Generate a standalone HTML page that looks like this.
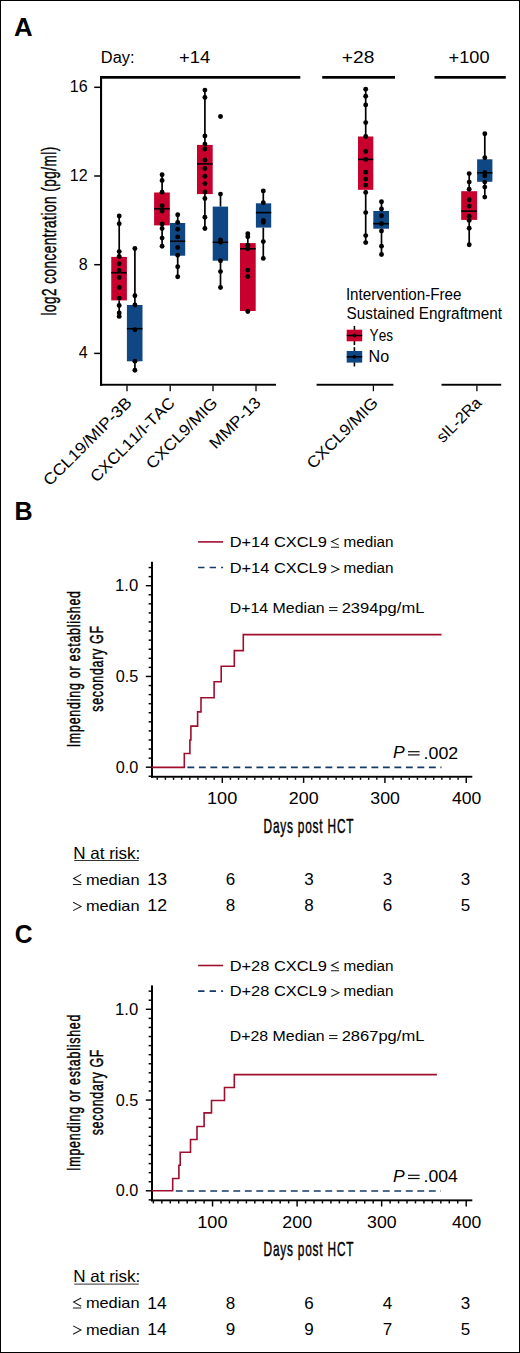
<!DOCTYPE html>
<html><head><meta charset="utf-8"><style>
html,body{margin:0;padding:0;background:#fff;}
svg{display:block;}
text{font-family:"Liberation Sans",sans-serif;fill:#000;font-kerning:none;font-variant-ligatures:none;}
</style></head><body>
<svg width="520" height="1353" viewBox="0 0 520 1353">
<rect x="0" y="0" width="520" height="1353" fill="#fff"/>
<text x="13.93" y="35.50" font-size="25" textLength="18.65" lengthAdjust="spacingAndGlyphs" font-weight="bold" >A</text>
<text x="100.86" y="62.70" font-size="16" textLength="33.65" lengthAdjust="spacingAndGlyphs" >Day:</text>
<text x="178.92" y="62.70" font-size="16.5" textLength="31.24" lengthAdjust="spacingAndGlyphs" >+14</text>
<text x="341.78" y="62.70" font-size="16.5" textLength="32.57" lengthAdjust="spacingAndGlyphs" >+28</text>
<text x="448.63" y="62.70" font-size="16.5" textLength="40.87" lengthAdjust="spacingAndGlyphs" >+100</text>
<rect x="100.00" y="76.00" width="200.30" height="2.70" fill="#000"/>
<rect x="322.20" y="76.00" width="72.80" height="2.70" fill="#000"/>
<rect x="434.50" y="76.00" width="71.30" height="2.70" fill="#000"/>
<rect x="100.00" y="76.00" width="2.10" height="309.70" fill="#000"/>
<rect x="100.00" y="383.80" width="176.00" height="1.90" fill="#000"/>
<rect x="316.60" y="383.80" width="76.80" height="1.90" fill="#000"/>
<rect x="441.50" y="383.80" width="59.70" height="1.90" fill="#000"/>
<line x1="94.20" y1="87.30" x2="100.00" y2="87.30" stroke="#000" stroke-width="1.5" />
<text x="87.6" y="92.19999999999999" font-size="16" text-anchor="end" >16</text>
<line x1="94.20" y1="176.00" x2="100.00" y2="176.00" stroke="#000" stroke-width="1.5" />
<text x="87.6" y="180.9" font-size="16" text-anchor="end" >12</text>
<line x1="94.20" y1="264.70" x2="100.00" y2="264.70" stroke="#000" stroke-width="1.5" />
<text x="87.6" y="269.6" font-size="16" text-anchor="end" >8</text>
<line x1="94.20" y1="353.40" x2="100.00" y2="353.40" stroke="#000" stroke-width="1.5" />
<text x="87.6" y="358.3" font-size="16" text-anchor="end" >4</text>
<text x="-1.31" y="0.00" font-size="19.3" letter-spacing="0.725" transform="translate(55.80,314.60) rotate(-90) scale(0.7,1)" stroke="#000" stroke-width="0.45">log2 concentration (pg/ml)</text>
<line x1="127.00" y1="385.60" x2="127.00" y2="391.20" stroke="#000" stroke-width="1.3" />
<line x1="170.20" y1="385.60" x2="170.20" y2="391.20" stroke="#000" stroke-width="1.3" />
<line x1="213.00" y1="385.60" x2="213.00" y2="391.20" stroke="#000" stroke-width="1.3" />
<line x1="256.00" y1="385.60" x2="256.00" y2="391.20" stroke="#000" stroke-width="1.3" />
<line x1="373.40" y1="385.60" x2="373.40" y2="391.20" stroke="#000" stroke-width="1.3" />
<line x1="476.90" y1="385.60" x2="476.90" y2="391.20" stroke="#000" stroke-width="1.3" />
<text transform="translate(132.65,403.85) rotate(-45) scale(1.09,1)" font-size="16" text-anchor="end">CCL19/MIP-3B</text>
<text transform="translate(175.85,403.85) rotate(-45) scale(1.05,1)" font-size="16" text-anchor="end">CXCL11/I-TAC</text>
<text transform="translate(218.65,403.85) rotate(-45) scale(1.084,1)" font-size="16" text-anchor="end">CXCL9/MIG</text>
<text transform="translate(261.65,403.85) rotate(-45) scale(1.073,1)" font-size="16" text-anchor="end">MMP-13</text>
<text transform="translate(379.05,403.85) rotate(-45) scale(1.08,1)" font-size="16" text-anchor="end">CXCL9/MIG</text>
<text transform="translate(482.55,403.85) rotate(-45) scale(1.0,1)" font-size="16" text-anchor="end">sIL-2Ra</text>
<line x1="119.20" y1="216.00" x2="119.20" y2="256.90" stroke="#000" stroke-width="1.7" />
<line x1="119.20" y1="300.40" x2="119.20" y2="316.40" stroke="#000" stroke-width="1.7" />
<rect x="111.25" y="256.90" width="15.65" height="43.50" fill="#c8002d"/>
<line x1="111.25" y1="272.70" x2="126.90" y2="272.70" stroke="#000" stroke-width="1.6" />
<circle cx="119.20" cy="216.00" r="2.45" fill="#000"/>
<circle cx="119.20" cy="223.70" r="2.45" fill="#000"/>
<circle cx="119.20" cy="251.60" r="2.45" fill="#000"/>
<circle cx="119.20" cy="256.50" r="2.45" fill="#000"/>
<circle cx="119.20" cy="263.80" r="2.45" fill="#000"/>
<circle cx="119.20" cy="270.50" r="2.45" fill="#000"/>
<circle cx="119.20" cy="277.50" r="2.45" fill="#000"/>
<circle cx="119.20" cy="287.50" r="2.45" fill="#000"/>
<circle cx="119.20" cy="298.10" r="2.45" fill="#000"/>
<circle cx="119.20" cy="305.50" r="2.45" fill="#000"/>
<circle cx="119.20" cy="313.00" r="2.45" fill="#000"/>
<circle cx="119.20" cy="316.40" r="2.45" fill="#000"/>
<line x1="134.90" y1="248.50" x2="134.90" y2="305.00" stroke="#000" stroke-width="1.7" />
<line x1="134.90" y1="361.30" x2="134.90" y2="370.20" stroke="#000" stroke-width="1.7" />
<rect x="126.90" y="305.00" width="15.60" height="56.30" fill="#0f4785"/>
<line x1="126.90" y1="328.70" x2="142.50" y2="328.70" stroke="#000" stroke-width="1.6" />
<circle cx="134.90" cy="248.50" r="2.45" fill="#000"/>
<circle cx="134.90" cy="295.70" r="2.45" fill="#000"/>
<circle cx="134.90" cy="305.00" r="2.45" fill="#000"/>
<circle cx="134.90" cy="329.70" r="2.45" fill="#000"/>
<circle cx="134.90" cy="361.30" r="2.45" fill="#000"/>
<circle cx="134.90" cy="370.20" r="2.45" fill="#000"/>
<line x1="162.10" y1="174.70" x2="162.10" y2="192.50" stroke="#000" stroke-width="1.7" />
<line x1="162.10" y1="225.40" x2="162.10" y2="246.30" stroke="#000" stroke-width="1.7" />
<rect x="154.10" y="192.50" width="15.70" height="32.90" fill="#c8002d"/>
<line x1="154.10" y1="208.75" x2="169.80" y2="208.75" stroke="#000" stroke-width="1.6" />
<circle cx="162.10" cy="174.70" r="2.45" fill="#000"/>
<circle cx="162.10" cy="180.50" r="2.45" fill="#000"/>
<circle cx="162.10" cy="192.20" r="2.45" fill="#000"/>
<circle cx="162.10" cy="205.70" r="2.45" fill="#000"/>
<circle cx="162.10" cy="211.00" r="2.45" fill="#000"/>
<circle cx="162.10" cy="223.90" r="2.45" fill="#000"/>
<circle cx="162.10" cy="228.50" r="2.45" fill="#000"/>
<circle cx="162.10" cy="238.10" r="2.45" fill="#000"/>
<circle cx="162.10" cy="246.30" r="2.45" fill="#000"/>
<line x1="177.70" y1="214.80" x2="177.70" y2="223.00" stroke="#000" stroke-width="1.7" />
<line x1="177.70" y1="255.70" x2="177.70" y2="276.80" stroke="#000" stroke-width="1.7" />
<rect x="170.00" y="223.00" width="15.20" height="32.70" fill="#0f4785"/>
<line x1="170.00" y1="241.25" x2="185.20" y2="241.25" stroke="#000" stroke-width="1.6" />
<circle cx="177.70" cy="214.80" r="2.45" fill="#000"/>
<circle cx="177.70" cy="222.50" r="2.45" fill="#000"/>
<circle cx="177.70" cy="229.20" r="2.45" fill="#000"/>
<circle cx="177.70" cy="236.90" r="2.45" fill="#000"/>
<circle cx="177.70" cy="247.50" r="2.45" fill="#000"/>
<circle cx="177.70" cy="255.20" r="2.45" fill="#000"/>
<circle cx="177.70" cy="266.70" r="2.45" fill="#000"/>
<circle cx="177.70" cy="276.80" r="2.45" fill="#000"/>
<line x1="204.90" y1="90.10" x2="204.90" y2="144.90" stroke="#000" stroke-width="1.7" />
<line x1="204.90" y1="194.10" x2="204.90" y2="228.50" stroke="#000" stroke-width="1.7" />
<rect x="197.00" y="144.90" width="15.70" height="49.20" fill="#c8002d"/>
<line x1="197.00" y1="163.90" x2="212.70" y2="163.90" stroke="#000" stroke-width="1.6" />
<circle cx="204.90" cy="90.10" r="2.45" fill="#000"/>
<circle cx="204.90" cy="97.40" r="2.45" fill="#000"/>
<circle cx="204.90" cy="136.00" r="2.45" fill="#000"/>
<circle cx="204.90" cy="144.10" r="2.45" fill="#000"/>
<circle cx="204.90" cy="149.00" r="2.45" fill="#000"/>
<circle cx="204.90" cy="160.00" r="2.45" fill="#000"/>
<circle cx="204.90" cy="168.50" r="2.45" fill="#000"/>
<circle cx="204.90" cy="176.30" r="2.45" fill="#000"/>
<circle cx="204.90" cy="183.60" r="2.45" fill="#000"/>
<circle cx="204.90" cy="192.00" r="2.45" fill="#000"/>
<circle cx="204.90" cy="198.50" r="2.45" fill="#000"/>
<circle cx="204.90" cy="217.20" r="2.45" fill="#000"/>
<circle cx="204.90" cy="228.50" r="2.45" fill="#000"/>
<line x1="220.50" y1="194.10" x2="220.50" y2="206.60" stroke="#000" stroke-width="1.7" />
<line x1="220.50" y1="260.70" x2="220.50" y2="287.50" stroke="#000" stroke-width="1.7" />
<rect x="212.70" y="206.60" width="15.40" height="54.10" fill="#0f4785"/>
<line x1="212.70" y1="242.30" x2="228.10" y2="242.30" stroke="#000" stroke-width="1.6" />
<circle cx="220.50" cy="116.50" r="2.45" fill="#000"/>
<circle cx="220.50" cy="194.10" r="2.45" fill="#000"/>
<circle cx="220.50" cy="239.90" r="2.45" fill="#000"/>
<circle cx="220.50" cy="242.30" r="2.45" fill="#000"/>
<circle cx="220.50" cy="260.70" r="2.45" fill="#000"/>
<circle cx="220.50" cy="271.60" r="2.45" fill="#000"/>
<circle cx="220.50" cy="287.50" r="2.45" fill="#000"/>
<line x1="247.80" y1="233.80" x2="247.80" y2="243.10" stroke="#000" stroke-width="1.7" />
<line x1="247.80" y1="311.00" x2="247.80" y2="311.50" stroke="#000" stroke-width="1.7" />
<rect x="240.00" y="243.10" width="15.70" height="67.90" fill="#c8002d"/>
<line x1="240.00" y1="248.80" x2="255.70" y2="248.80" stroke="#000" stroke-width="1.6" />
<circle cx="247.80" cy="233.80" r="2.45" fill="#000"/>
<circle cx="247.80" cy="236.70" r="2.45" fill="#000"/>
<circle cx="247.80" cy="245.20" r="2.45" fill="#000"/>
<circle cx="247.80" cy="248.80" r="2.45" fill="#000"/>
<circle cx="247.80" cy="270.10" r="2.45" fill="#000"/>
<circle cx="247.80" cy="276.50" r="2.45" fill="#000"/>
<circle cx="247.80" cy="311.50" r="2.45" fill="#000"/>
<line x1="263.30" y1="190.90" x2="263.30" y2="203.30" stroke="#000" stroke-width="1.7" />
<line x1="263.30" y1="227.60" x2="263.30" y2="258.40" stroke="#000" stroke-width="1.7" />
<rect x="255.90" y="203.30" width="15.30" height="24.30" fill="#0f4785"/>
<line x1="255.90" y1="212.60" x2="271.20" y2="212.60" stroke="#000" stroke-width="1.6" />
<circle cx="263.30" cy="190.90" r="2.45" fill="#000"/>
<circle cx="263.30" cy="202.80" r="2.45" fill="#000"/>
<circle cx="263.30" cy="220.40" r="2.45" fill="#000"/>
<circle cx="263.30" cy="222.40" r="2.45" fill="#000"/>
<circle cx="263.30" cy="241.60" r="2.45" fill="#000"/>
<circle cx="263.30" cy="258.40" r="2.45" fill="#000"/>
<line x1="365.70" y1="89.30" x2="365.70" y2="136.50" stroke="#000" stroke-width="1.7" />
<line x1="365.70" y1="189.80" x2="365.70" y2="242.60" stroke="#000" stroke-width="1.7" />
<rect x="358.00" y="136.50" width="15.30" height="53.30" fill="#c8002d"/>
<line x1="358.00" y1="159.40" x2="373.30" y2="159.40" stroke="#000" stroke-width="1.6" />
<circle cx="365.70" cy="89.30" r="2.45" fill="#000"/>
<circle cx="365.70" cy="96.20" r="2.45" fill="#000"/>
<circle cx="365.70" cy="104.90" r="2.45" fill="#000"/>
<circle cx="365.70" cy="122.60" r="2.45" fill="#000"/>
<circle cx="365.70" cy="136.50" r="2.45" fill="#000"/>
<circle cx="365.70" cy="151.40" r="2.45" fill="#000"/>
<circle cx="365.70" cy="159.40" r="2.45" fill="#000"/>
<circle cx="365.70" cy="172.20" r="2.45" fill="#000"/>
<circle cx="365.70" cy="179.10" r="2.45" fill="#000"/>
<circle cx="365.70" cy="185.10" r="2.45" fill="#000"/>
<circle cx="365.70" cy="192.40" r="2.45" fill="#000"/>
<circle cx="365.70" cy="212.60" r="2.45" fill="#000"/>
<circle cx="365.70" cy="235.60" r="2.45" fill="#000"/>
<circle cx="365.70" cy="242.60" r="2.45" fill="#000"/>
<line x1="381.50" y1="201.70" x2="381.50" y2="211.00" stroke="#000" stroke-width="1.7" />
<line x1="381.50" y1="228.70" x2="381.50" y2="254.50" stroke="#000" stroke-width="1.7" />
<rect x="373.30" y="211.00" width="15.70" height="17.70" fill="#0f4785"/>
<line x1="373.30" y1="223.70" x2="389.00" y2="223.70" stroke="#000" stroke-width="1.6" />
<circle cx="381.50" cy="201.70" r="2.45" fill="#000"/>
<circle cx="381.50" cy="209.00" r="2.45" fill="#000"/>
<circle cx="381.50" cy="215.70" r="2.45" fill="#000"/>
<circle cx="381.50" cy="223.70" r="2.45" fill="#000"/>
<circle cx="381.50" cy="231.00" r="2.45" fill="#000"/>
<circle cx="381.50" cy="246.30" r="2.45" fill="#000"/>
<circle cx="381.50" cy="254.50" r="2.45" fill="#000"/>
<line x1="469.20" y1="173.60" x2="469.20" y2="191.20" stroke="#000" stroke-width="1.7" />
<line x1="469.20" y1="219.90" x2="469.20" y2="244.70" stroke="#000" stroke-width="1.7" />
<rect x="461.20" y="191.20" width="15.90" height="28.70" fill="#c8002d"/>
<line x1="461.20" y1="211.10" x2="477.10" y2="211.10" stroke="#000" stroke-width="1.6" />
<circle cx="469.20" cy="173.60" r="2.45" fill="#000"/>
<circle cx="469.20" cy="182.10" r="2.45" fill="#000"/>
<circle cx="469.20" cy="189.20" r="2.45" fill="#000"/>
<circle cx="469.20" cy="199.70" r="2.45" fill="#000"/>
<circle cx="469.20" cy="206.10" r="2.45" fill="#000"/>
<circle cx="469.20" cy="216.30" r="2.45" fill="#000"/>
<circle cx="469.20" cy="220.40" r="2.45" fill="#000"/>
<circle cx="469.20" cy="228.20" r="2.45" fill="#000"/>
<circle cx="469.20" cy="244.70" r="2.45" fill="#000"/>
<line x1="484.80" y1="133.80" x2="484.80" y2="159.30" stroke="#000" stroke-width="1.7" />
<line x1="484.80" y1="181.80" x2="484.80" y2="197.10" stroke="#000" stroke-width="1.7" />
<rect x="477.10" y="159.30" width="15.30" height="22.50" fill="#0f4785"/>
<line x1="477.10" y1="172.80" x2="492.40" y2="172.80" stroke="#000" stroke-width="1.6" />
<circle cx="484.80" cy="133.80" r="2.45" fill="#000"/>
<circle cx="484.80" cy="157.80" r="2.45" fill="#000"/>
<circle cx="484.80" cy="172.80" r="2.45" fill="#000"/>
<circle cx="484.80" cy="175.90" r="2.45" fill="#000"/>
<circle cx="484.80" cy="182.10" r="2.45" fill="#000"/>
<circle cx="484.80" cy="187.10" r="2.45" fill="#000"/>
<circle cx="484.80" cy="197.10" r="2.45" fill="#000"/>
<text x="345.90" y="300.30" font-size="16" textLength="115.58" lengthAdjust="spacingAndGlyphs" >Intervention-Free</text>
<text x="346.60" y="319.10" font-size="16" textLength="155.51" lengthAdjust="spacingAndGlyphs" >Sustained Engraftment</text>
<line x1="354.40" y1="325.90" x2="354.40" y2="345.10" stroke="#000" stroke-width="1.6" />
<rect x="346.70" y="329.70" width="15.50" height="11.60" fill="#c8002d"/>
<line x1="346.70" y1="335.50" x2="362.20" y2="335.50" stroke="#000" stroke-width="1.5" />
<circle cx="354.40" cy="335.50" r="1.9" fill="#000"/>
<text x="369.58" y="341.40" font-size="16.3" textLength="23.42" lengthAdjust="spacingAndGlyphs" >Yes</text>
<line x1="354.40" y1="347.20" x2="354.40" y2="366.40" stroke="#000" stroke-width="1.6" />
<rect x="346.70" y="351.00" width="15.50" height="11.60" fill="#0f4785"/>
<line x1="346.70" y1="356.80" x2="362.20" y2="356.80" stroke="#000" stroke-width="1.5" />
<circle cx="354.40" cy="356.80" r="1.9" fill="#000"/>
<text x="368.58" y="362.40" font-size="16.3" textLength="20.60" lengthAdjust="spacingAndGlyphs" >No</text>
<text x="14.54" y="519.60" font-size="25" textLength="18.11" lengthAdjust="spacingAndGlyphs" font-weight="bold" >B</text>
<line x1="198.10" y1="541.90" x2="223.10" y2="541.90" stroke="#a00e2e" stroke-width="1.6" />
<line x1="198.10" y1="567.50" x2="223.10" y2="567.50" stroke="#163a66" stroke-width="1.6" stroke-dasharray="6.4 5.1"/>
<text x="229.65" y="547.30" font-size="15.5" textLength="97.13" lengthAdjust="spacingAndGlyphs" >D+14 CXCL9</text>
<text x="343.59" y="547.30" font-size="15.5" textLength="49.98" lengthAdjust="spacingAndGlyphs" >median</text>
<text x="229.65" y="572.70" font-size="15.5" textLength="97.13" lengthAdjust="spacingAndGlyphs" >D+14 CXCL9</text>
<text x="343.59" y="572.70" font-size="15.5" textLength="49.98" lengthAdjust="spacingAndGlyphs" >median</text>
<path d="M338.7,538.20 L331.6,541.60 L338.7,545.10 M331.0,547.20 H339.1" fill="none" stroke="#1a1a1a" stroke-width="1.05" stroke-linejoin="miter"/>
<path d="M331.2,565.50 L339.0,569.20 L331.2,572.80" fill="none" stroke="#1a1a1a" stroke-width="1.05" stroke-linejoin="miter"/>
<text x="229.80" y="612.80" font-size="15.5" textLength="94.92" lengthAdjust="spacingAndGlyphs" >D+14 Median</text>
<rect x="329.10" y="607.00" width="8.40" height="1.05" fill="#222"/>
<rect x="329.10" y="610.00" width="8.40" height="1.05" fill="#222"/>
<text x="341.67" y="612.80" font-size="15.5" textLength="82.69" lengthAdjust="spacingAndGlyphs" >2394pg/mL</text>
<text x="392.98" y="758.20" font-size="16.0" textLength="11.65" lengthAdjust="spacingAndGlyphs" font-style="italic" >P</text>
<rect x="408.00" y="751.10" width="11.60" height="1.20" fill="#111"/>
<rect x="408.00" y="754.30" width="11.60" height="1.20" fill="#111"/>
<text x="423.56" y="758.50" font-size="17" textLength="34.63" lengthAdjust="spacingAndGlyphs" >.002</text>
<rect x="151.00" y="561.80" width="2.00" height="216.00" fill="#000"/>
<line x1="148.60" y1="776.28" x2="151.00" y2="776.28" stroke="#000" stroke-width="1.45" />
<line x1="145.80" y1="767.20" x2="151.00" y2="767.20" stroke="#000" stroke-width="1.45" />
<line x1="148.60" y1="758.12" x2="151.00" y2="758.12" stroke="#000" stroke-width="1.45" />
<line x1="148.60" y1="749.05" x2="151.00" y2="749.05" stroke="#000" stroke-width="1.45" />
<line x1="148.60" y1="739.98" x2="151.00" y2="739.98" stroke="#000" stroke-width="1.45" />
<line x1="148.60" y1="730.90" x2="151.00" y2="730.90" stroke="#000" stroke-width="1.45" />
<line x1="148.60" y1="721.83" x2="151.00" y2="721.83" stroke="#000" stroke-width="1.45" />
<line x1="148.60" y1="712.75" x2="151.00" y2="712.75" stroke="#000" stroke-width="1.45" />
<line x1="148.60" y1="703.68" x2="151.00" y2="703.68" stroke="#000" stroke-width="1.45" />
<line x1="148.60" y1="694.60" x2="151.00" y2="694.60" stroke="#000" stroke-width="1.45" />
<line x1="148.60" y1="685.53" x2="151.00" y2="685.53" stroke="#000" stroke-width="1.45" />
<line x1="145.80" y1="676.45" x2="151.00" y2="676.45" stroke="#000" stroke-width="1.45" />
<line x1="148.60" y1="667.38" x2="151.00" y2="667.38" stroke="#000" stroke-width="1.45" />
<line x1="148.60" y1="658.30" x2="151.00" y2="658.30" stroke="#000" stroke-width="1.45" />
<line x1="148.60" y1="649.23" x2="151.00" y2="649.23" stroke="#000" stroke-width="1.45" />
<line x1="148.60" y1="640.15" x2="151.00" y2="640.15" stroke="#000" stroke-width="1.45" />
<line x1="148.60" y1="631.08" x2="151.00" y2="631.08" stroke="#000" stroke-width="1.45" />
<line x1="148.60" y1="622.00" x2="151.00" y2="622.00" stroke="#000" stroke-width="1.45" />
<line x1="148.60" y1="612.93" x2="151.00" y2="612.93" stroke="#000" stroke-width="1.45" />
<line x1="148.60" y1="603.85" x2="151.00" y2="603.85" stroke="#000" stroke-width="1.45" />
<line x1="148.60" y1="594.78" x2="151.00" y2="594.78" stroke="#000" stroke-width="1.45" />
<line x1="145.80" y1="585.70" x2="151.00" y2="585.70" stroke="#000" stroke-width="1.45" />
<line x1="148.60" y1="576.62" x2="151.00" y2="576.62" stroke="#000" stroke-width="1.45" />
<line x1="148.60" y1="567.55" x2="151.00" y2="567.55" stroke="#000" stroke-width="1.45" />
<text x="115.03" y="591.30" font-size="16.8" textLength="23.21" lengthAdjust="spacingAndGlyphs" >1.0</text>
<text x="115.65" y="682.05" font-size="16.8" textLength="22.64" lengthAdjust="spacingAndGlyphs" >0.5</text>
<text x="115.65" y="772.80" font-size="16.8" textLength="22.57" lengthAdjust="spacingAndGlyphs" >0.0</text>
<rect x="151.00" y="775.80" width="321.30" height="1.90" fill="#000"/>
<line x1="157.26" y1="777.50" x2="157.26" y2="779.80" stroke="#000" stroke-width="1.45" />
<line x1="165.39" y1="777.50" x2="165.39" y2="779.80" stroke="#000" stroke-width="1.45" />
<line x1="173.52" y1="777.50" x2="173.52" y2="779.80" stroke="#000" stroke-width="1.45" />
<line x1="181.66" y1="777.50" x2="181.66" y2="779.80" stroke="#000" stroke-width="1.45" />
<line x1="189.79" y1="777.50" x2="189.79" y2="779.80" stroke="#000" stroke-width="1.45" />
<line x1="197.92" y1="777.50" x2="197.92" y2="779.80" stroke="#000" stroke-width="1.45" />
<line x1="206.05" y1="777.50" x2="206.05" y2="779.80" stroke="#000" stroke-width="1.45" />
<line x1="214.18" y1="777.50" x2="214.18" y2="779.80" stroke="#000" stroke-width="1.45" />
<line x1="222.31" y1="777.50" x2="222.31" y2="782.90" stroke="#000" stroke-width="1.45" />
<text x="207.03" y="804.20" font-size="16.8" textLength="30.28" lengthAdjust="spacingAndGlyphs" >100</text>
<line x1="230.44" y1="777.50" x2="230.44" y2="779.80" stroke="#000" stroke-width="1.45" />
<line x1="238.57" y1="777.50" x2="238.57" y2="779.80" stroke="#000" stroke-width="1.45" />
<line x1="246.70" y1="777.50" x2="246.70" y2="779.80" stroke="#000" stroke-width="1.45" />
<line x1="254.83" y1="777.50" x2="254.83" y2="779.80" stroke="#000" stroke-width="1.45" />
<line x1="262.97" y1="777.50" x2="262.97" y2="779.80" stroke="#000" stroke-width="1.45" />
<line x1="271.10" y1="777.50" x2="271.10" y2="779.80" stroke="#000" stroke-width="1.45" />
<line x1="279.23" y1="777.50" x2="279.23" y2="779.80" stroke="#000" stroke-width="1.45" />
<line x1="287.36" y1="777.50" x2="287.36" y2="779.80" stroke="#000" stroke-width="1.45" />
<line x1="295.49" y1="777.50" x2="295.49" y2="779.80" stroke="#000" stroke-width="1.45" />
<line x1="303.62" y1="777.50" x2="303.62" y2="782.90" stroke="#000" stroke-width="1.45" />
<text x="288.83" y="804.20" font-size="16.8" textLength="29.78" lengthAdjust="spacingAndGlyphs" >200</text>
<line x1="311.75" y1="777.50" x2="311.75" y2="779.80" stroke="#000" stroke-width="1.45" />
<line x1="319.88" y1="777.50" x2="319.88" y2="779.80" stroke="#000" stroke-width="1.45" />
<line x1="328.01" y1="777.50" x2="328.01" y2="779.80" stroke="#000" stroke-width="1.45" />
<line x1="336.14" y1="777.50" x2="336.14" y2="779.80" stroke="#000" stroke-width="1.45" />
<line x1="344.27" y1="777.50" x2="344.27" y2="779.80" stroke="#000" stroke-width="1.45" />
<line x1="352.41" y1="777.50" x2="352.41" y2="779.80" stroke="#000" stroke-width="1.45" />
<line x1="360.54" y1="777.50" x2="360.54" y2="779.80" stroke="#000" stroke-width="1.45" />
<line x1="368.67" y1="777.50" x2="368.67" y2="779.80" stroke="#000" stroke-width="1.45" />
<line x1="376.80" y1="777.50" x2="376.80" y2="779.80" stroke="#000" stroke-width="1.45" />
<line x1="384.93" y1="777.50" x2="384.93" y2="782.90" stroke="#000" stroke-width="1.45" />
<text x="370.36" y="804.20" font-size="16.8" textLength="29.55" lengthAdjust="spacingAndGlyphs" >300</text>
<line x1="393.06" y1="777.50" x2="393.06" y2="779.80" stroke="#000" stroke-width="1.45" />
<line x1="401.19" y1="777.50" x2="401.19" y2="779.80" stroke="#000" stroke-width="1.45" />
<line x1="409.32" y1="777.50" x2="409.32" y2="779.80" stroke="#000" stroke-width="1.45" />
<line x1="417.45" y1="777.50" x2="417.45" y2="779.80" stroke="#000" stroke-width="1.45" />
<line x1="425.59" y1="777.50" x2="425.59" y2="779.80" stroke="#000" stroke-width="1.45" />
<line x1="433.72" y1="777.50" x2="433.72" y2="779.80" stroke="#000" stroke-width="1.45" />
<line x1="441.85" y1="777.50" x2="441.85" y2="779.80" stroke="#000" stroke-width="1.45" />
<line x1="449.98" y1="777.50" x2="449.98" y2="779.80" stroke="#000" stroke-width="1.45" />
<line x1="458.11" y1="777.50" x2="458.11" y2="779.80" stroke="#000" stroke-width="1.45" />
<line x1="466.24" y1="777.50" x2="466.24" y2="782.90" stroke="#000" stroke-width="1.45" />
<text x="451.95" y="804.20" font-size="16.8" textLength="29.26" lengthAdjust="spacingAndGlyphs" >400</text>
<text x="439.21" y="832.80" font-size="19.8" letter-spacing="1.321" transform="scale(0.6,1)" stroke="#000" stroke-width="0.45">Days post HCT</text>
<text x="-1.77" y="0.00" font-size="19.2" letter-spacing="1.137" transform="translate(80.20,746.20) rotate(-90) scale(0.65,1)" stroke="#000" stroke-width="0.45">Impending or established</text>
<text x="-0.54" y="0.00" font-size="19.2" letter-spacing="1.045" transform="translate(103.40,711.40) rotate(-90) scale(0.65,1)" stroke="#000" stroke-width="0.45">secondary GF</text>
<polyline points="151.50,767.40 184.30,767.40 184.30,753.50 189.90,753.50 189.90,740.00 190.90,740.00 190.90,726.10 197.60,726.10 197.60,711.90 201.00,711.90 201.00,697.70 214.10,697.70 214.10,681.80 221.20,681.80 221.20,666.30 234.30,666.30 234.30,650.60 243.30,650.60 243.30,634.60 441.50,634.60" fill="none" stroke="#a00e2e" stroke-width="1.6" stroke-linejoin="miter"/>
<line x1="187.40" y1="767.40" x2="441.50" y2="767.40" stroke="#163a66" stroke-width="1.6" stroke-dasharray="6.9 4.6"/>
<text x="73.20" y="858.80" font-size="16.5" textLength="67.14" lengthAdjust="spacingAndGlyphs" >N at risk:</text>
<rect x="74.20" y="860.00" width="64.60" height="1.00" fill="#333"/>
<text x="85.92" y="884.70" font-size="15" textLength="53.62" lengthAdjust="spacingAndGlyphs" >median</text>
<text x="85.92" y="911.00" font-size="15" textLength="53.62" lengthAdjust="spacingAndGlyphs" >median</text>
<path d="M81.2,874.40 L73.6,878.50 L81.2,882.70 M72.9,884.40 H81.3" fill="none" stroke="#1a1a1a" stroke-width="1.05" stroke-linejoin="miter"/>
<path d="M73.1,902.30 L81.0,906.40 L73.1,910.60" fill="none" stroke="#1a1a1a" stroke-width="1.05" stroke-linejoin="miter"/>
<text x="147.36" y="884.90" font-size="17" textLength="19.62" lengthAdjust="spacingAndGlyphs" >13</text>
<text x="230.6" y="884.9" font-size="17" text-anchor="middle" >6</text>
<text x="309.1" y="884.9" font-size="17" text-anchor="middle" >3</text>
<text x="387.5" y="884.9" font-size="17" text-anchor="middle" >3</text>
<text x="465.6" y="884.9" font-size="17" text-anchor="middle" >3</text>
<text x="147.35" y="911.10" font-size="17" textLength="19.74" lengthAdjust="spacingAndGlyphs" >12</text>
<text x="230.6" y="911.1" font-size="17" text-anchor="middle" >8</text>
<text x="309.1" y="911.1" font-size="17" text-anchor="middle" >8</text>
<text x="387.5" y="911.1" font-size="17" text-anchor="middle" >6</text>
<text x="465.6" y="911.1" font-size="17" text-anchor="middle" >5</text>
<text x="14.76" y="943.20" font-size="25" textLength="17.83" lengthAdjust="spacingAndGlyphs" font-weight="bold" >C</text>
<line x1="198.10" y1="965.50" x2="223.10" y2="965.50" stroke="#a00e2e" stroke-width="1.6" />
<line x1="198.10" y1="991.10" x2="223.10" y2="991.10" stroke="#163a66" stroke-width="1.6" stroke-dasharray="6.4 5.1"/>
<text x="229.65" y="970.90" font-size="15.5" textLength="97.13" lengthAdjust="spacingAndGlyphs" >D+28 CXCL9</text>
<text x="343.59" y="970.90" font-size="15.5" textLength="49.98" lengthAdjust="spacingAndGlyphs" >median</text>
<text x="229.65" y="996.30" font-size="15.5" textLength="97.13" lengthAdjust="spacingAndGlyphs" >D+28 CXCL9</text>
<text x="343.59" y="996.30" font-size="15.5" textLength="49.98" lengthAdjust="spacingAndGlyphs" >median</text>
<path d="M338.7,961.80 L331.6,965.20 L338.7,968.70 M331.0,970.80 H339.1" fill="none" stroke="#1a1a1a" stroke-width="1.05" stroke-linejoin="miter"/>
<path d="M331.2,989.10 L339.0,992.80 L331.2,996.40" fill="none" stroke="#1a1a1a" stroke-width="1.05" stroke-linejoin="miter"/>
<text x="229.80" y="1040.70" font-size="15.5" textLength="94.92" lengthAdjust="spacingAndGlyphs" >D+28 Median</text>
<rect x="329.10" y="1035.00" width="8.40" height="1.05" fill="#222"/>
<rect x="329.10" y="1038.00" width="8.40" height="1.05" fill="#222"/>
<text x="341.67" y="1040.70" font-size="15.5" textLength="82.69" lengthAdjust="spacingAndGlyphs" >2867pg/mL</text>
<text x="392.98" y="1181.80" font-size="16.0" textLength="11.65" lengthAdjust="spacingAndGlyphs" font-style="italic" >P</text>
<rect x="408.00" y="1174.70" width="11.60" height="1.20" fill="#111"/>
<rect x="408.00" y="1177.90" width="11.60" height="1.20" fill="#111"/>
<text x="423.58" y="1182.10" font-size="17" textLength="34.25" lengthAdjust="spacingAndGlyphs" >.004</text>
<rect x="151.00" y="985.40" width="2.00" height="216.00" fill="#000"/>
<line x1="148.60" y1="1199.88" x2="151.00" y2="1199.88" stroke="#000" stroke-width="1.45" />
<line x1="145.80" y1="1190.80" x2="151.00" y2="1190.80" stroke="#000" stroke-width="1.45" />
<line x1="148.60" y1="1181.73" x2="151.00" y2="1181.73" stroke="#000" stroke-width="1.45" />
<line x1="148.60" y1="1172.65" x2="151.00" y2="1172.65" stroke="#000" stroke-width="1.45" />
<line x1="148.60" y1="1163.58" x2="151.00" y2="1163.58" stroke="#000" stroke-width="1.45" />
<line x1="148.60" y1="1154.50" x2="151.00" y2="1154.50" stroke="#000" stroke-width="1.45" />
<line x1="148.60" y1="1145.43" x2="151.00" y2="1145.43" stroke="#000" stroke-width="1.45" />
<line x1="148.60" y1="1136.35" x2="151.00" y2="1136.35" stroke="#000" stroke-width="1.45" />
<line x1="148.60" y1="1127.28" x2="151.00" y2="1127.28" stroke="#000" stroke-width="1.45" />
<line x1="148.60" y1="1118.20" x2="151.00" y2="1118.20" stroke="#000" stroke-width="1.45" />
<line x1="148.60" y1="1109.13" x2="151.00" y2="1109.13" stroke="#000" stroke-width="1.45" />
<line x1="145.80" y1="1100.05" x2="151.00" y2="1100.05" stroke="#000" stroke-width="1.45" />
<line x1="148.60" y1="1090.98" x2="151.00" y2="1090.98" stroke="#000" stroke-width="1.45" />
<line x1="148.60" y1="1081.90" x2="151.00" y2="1081.90" stroke="#000" stroke-width="1.45" />
<line x1="148.60" y1="1072.83" x2="151.00" y2="1072.83" stroke="#000" stroke-width="1.45" />
<line x1="148.60" y1="1063.75" x2="151.00" y2="1063.75" stroke="#000" stroke-width="1.45" />
<line x1="148.60" y1="1054.68" x2="151.00" y2="1054.68" stroke="#000" stroke-width="1.45" />
<line x1="148.60" y1="1045.60" x2="151.00" y2="1045.60" stroke="#000" stroke-width="1.45" />
<line x1="148.60" y1="1036.53" x2="151.00" y2="1036.53" stroke="#000" stroke-width="1.45" />
<line x1="148.60" y1="1027.45" x2="151.00" y2="1027.45" stroke="#000" stroke-width="1.45" />
<line x1="148.60" y1="1018.38" x2="151.00" y2="1018.38" stroke="#000" stroke-width="1.45" />
<line x1="145.80" y1="1009.30" x2="151.00" y2="1009.30" stroke="#000" stroke-width="1.45" />
<line x1="148.60" y1="1000.23" x2="151.00" y2="1000.23" stroke="#000" stroke-width="1.45" />
<line x1="148.60" y1="991.15" x2="151.00" y2="991.15" stroke="#000" stroke-width="1.45" />
<text x="115.03" y="1014.90" font-size="16.8" textLength="23.21" lengthAdjust="spacingAndGlyphs" >1.0</text>
<text x="115.65" y="1105.65" font-size="16.8" textLength="22.64" lengthAdjust="spacingAndGlyphs" >0.5</text>
<text x="115.65" y="1196.40" font-size="16.8" textLength="22.57" lengthAdjust="spacingAndGlyphs" >0.0</text>
<rect x="151.00" y="1199.40" width="321.30" height="1.90" fill="#000"/>
<line x1="153.37" y1="1201.10" x2="153.37" y2="1203.40" stroke="#000" stroke-width="1.45" />
<line x1="161.82" y1="1201.10" x2="161.82" y2="1203.40" stroke="#000" stroke-width="1.45" />
<line x1="170.28" y1="1201.10" x2="170.28" y2="1203.40" stroke="#000" stroke-width="1.45" />
<line x1="178.73" y1="1201.10" x2="178.73" y2="1203.40" stroke="#000" stroke-width="1.45" />
<line x1="187.19" y1="1201.10" x2="187.19" y2="1203.40" stroke="#000" stroke-width="1.45" />
<line x1="195.64" y1="1201.10" x2="195.64" y2="1203.40" stroke="#000" stroke-width="1.45" />
<line x1="204.09" y1="1201.10" x2="204.09" y2="1203.40" stroke="#000" stroke-width="1.45" />
<line x1="212.55" y1="1201.10" x2="212.55" y2="1206.50" stroke="#000" stroke-width="1.45" />
<text x="197.27" y="1227.80" font-size="16.8" textLength="30.28" lengthAdjust="spacingAndGlyphs" >100</text>
<line x1="221.00" y1="1201.10" x2="221.00" y2="1203.40" stroke="#000" stroke-width="1.45" />
<line x1="229.46" y1="1201.10" x2="229.46" y2="1203.40" stroke="#000" stroke-width="1.45" />
<line x1="237.92" y1="1201.10" x2="237.92" y2="1203.40" stroke="#000" stroke-width="1.45" />
<line x1="246.37" y1="1201.10" x2="246.37" y2="1203.40" stroke="#000" stroke-width="1.45" />
<line x1="254.82" y1="1201.10" x2="254.82" y2="1203.40" stroke="#000" stroke-width="1.45" />
<line x1="263.28" y1="1201.10" x2="263.28" y2="1203.40" stroke="#000" stroke-width="1.45" />
<line x1="271.74" y1="1201.10" x2="271.74" y2="1203.40" stroke="#000" stroke-width="1.45" />
<line x1="280.19" y1="1201.10" x2="280.19" y2="1203.40" stroke="#000" stroke-width="1.45" />
<line x1="288.64" y1="1201.10" x2="288.64" y2="1203.40" stroke="#000" stroke-width="1.45" />
<line x1="297.10" y1="1201.10" x2="297.10" y2="1206.50" stroke="#000" stroke-width="1.45" />
<text x="282.31" y="1227.80" font-size="16.8" textLength="29.78" lengthAdjust="spacingAndGlyphs" >200</text>
<line x1="305.56" y1="1201.10" x2="305.56" y2="1203.40" stroke="#000" stroke-width="1.45" />
<line x1="314.01" y1="1201.10" x2="314.01" y2="1203.40" stroke="#000" stroke-width="1.45" />
<line x1="322.47" y1="1201.10" x2="322.47" y2="1203.40" stroke="#000" stroke-width="1.45" />
<line x1="330.92" y1="1201.10" x2="330.92" y2="1203.40" stroke="#000" stroke-width="1.45" />
<line x1="339.38" y1="1201.10" x2="339.38" y2="1203.40" stroke="#000" stroke-width="1.45" />
<line x1="347.83" y1="1201.10" x2="347.83" y2="1203.40" stroke="#000" stroke-width="1.45" />
<line x1="356.28" y1="1201.10" x2="356.28" y2="1203.40" stroke="#000" stroke-width="1.45" />
<line x1="364.74" y1="1201.10" x2="364.74" y2="1203.40" stroke="#000" stroke-width="1.45" />
<line x1="373.20" y1="1201.10" x2="373.20" y2="1203.40" stroke="#000" stroke-width="1.45" />
<line x1="381.65" y1="1201.10" x2="381.65" y2="1206.50" stroke="#000" stroke-width="1.45" />
<text x="367.08" y="1227.80" font-size="16.8" textLength="29.55" lengthAdjust="spacingAndGlyphs" >300</text>
<line x1="390.11" y1="1201.10" x2="390.11" y2="1203.40" stroke="#000" stroke-width="1.45" />
<line x1="398.56" y1="1201.10" x2="398.56" y2="1203.40" stroke="#000" stroke-width="1.45" />
<line x1="407.01" y1="1201.10" x2="407.01" y2="1203.40" stroke="#000" stroke-width="1.45" />
<line x1="415.47" y1="1201.10" x2="415.47" y2="1203.40" stroke="#000" stroke-width="1.45" />
<line x1="423.93" y1="1201.10" x2="423.93" y2="1203.40" stroke="#000" stroke-width="1.45" />
<line x1="432.38" y1="1201.10" x2="432.38" y2="1203.40" stroke="#000" stroke-width="1.45" />
<line x1="440.84" y1="1201.10" x2="440.84" y2="1203.40" stroke="#000" stroke-width="1.45" />
<line x1="449.29" y1="1201.10" x2="449.29" y2="1203.40" stroke="#000" stroke-width="1.45" />
<line x1="457.75" y1="1201.10" x2="457.75" y2="1203.40" stroke="#000" stroke-width="1.45" />
<line x1="466.20" y1="1201.10" x2="466.20" y2="1206.50" stroke="#000" stroke-width="1.45" />
<text x="451.91" y="1227.80" font-size="16.8" textLength="29.26" lengthAdjust="spacingAndGlyphs" >400</text>
<text x="439.21" y="1256.40" font-size="19.8" letter-spacing="1.321" transform="scale(0.6,1)" stroke="#000" stroke-width="0.45">Days post HCT</text>
<text x="-1.77" y="0.00" font-size="19.2" letter-spacing="1.137" transform="translate(80.20,1169.80) rotate(-90) scale(0.65,1)" stroke="#000" stroke-width="0.45">Impending or established</text>
<text x="-0.54" y="0.00" font-size="19.2" letter-spacing="1.045" transform="translate(103.40,1135.00) rotate(-90) scale(0.65,1)" stroke="#000" stroke-width="0.45">secondary GF</text>
<polyline points="151.50,1190.80 172.70,1190.80 172.70,1178.50 178.90,1178.50 178.90,1165.30 180.20,1165.30 180.20,1152.30 190.50,1152.30 190.50,1139.50 197.00,1139.50 197.00,1126.50 204.10,1126.50 204.10,1112.90 211.50,1112.90 211.50,1100.50 224.50,1100.50 224.50,1087.50 234.30,1087.50 234.30,1074.60 436.90,1074.60" fill="none" stroke="#a00e2e" stroke-width="1.6" stroke-linejoin="miter"/>
<line x1="175.80" y1="1191.00" x2="440.80" y2="1191.00" stroke="#163a66" stroke-width="1.6" stroke-dasharray="6.9 4.6"/>
<text x="73.20" y="1282.40" font-size="16.5" textLength="67.14" lengthAdjust="spacingAndGlyphs" >N at risk:</text>
<rect x="74.20" y="1283.60" width="64.60" height="1.00" fill="#333"/>
<text x="85.92" y="1308.30" font-size="15" textLength="53.62" lengthAdjust="spacingAndGlyphs" >median</text>
<text x="85.92" y="1334.60" font-size="15" textLength="53.62" lengthAdjust="spacingAndGlyphs" >median</text>
<path d="M81.2,1298.00 L73.6,1302.10 L81.2,1306.30 M72.9,1308.00 H81.3" fill="none" stroke="#1a1a1a" stroke-width="1.05" stroke-linejoin="miter"/>
<path d="M73.1,1325.90 L81.0,1330.00 L73.1,1334.20" fill="none" stroke="#1a1a1a" stroke-width="1.05" stroke-linejoin="miter"/>
<text x="147.38" y="1308.50" font-size="17" textLength="19.35" lengthAdjust="spacingAndGlyphs" >14</text>
<text x="230.6" y="1308.5" font-size="17" text-anchor="middle" >8</text>
<text x="309.1" y="1308.5" font-size="17" text-anchor="middle" >6</text>
<text x="387.5" y="1308.5" font-size="17" text-anchor="middle" >4</text>
<text x="465.6" y="1308.5" font-size="17" text-anchor="middle" >3</text>
<text x="147.38" y="1334.70" font-size="17" textLength="19.35" lengthAdjust="spacingAndGlyphs" >14</text>
<text x="230.6" y="1334.7" font-size="17" text-anchor="middle" >9</text>
<text x="309.1" y="1334.7" font-size="17" text-anchor="middle" >9</text>
<text x="387.5" y="1334.7" font-size="17" text-anchor="middle" >7</text>
<text x="465.6" y="1334.7" font-size="17" text-anchor="middle" >5</text>
<rect x="0.5" y="0.5" width="519" height="1352" fill="none" stroke="#000" stroke-width="1"/>
</svg>
</body></html>
